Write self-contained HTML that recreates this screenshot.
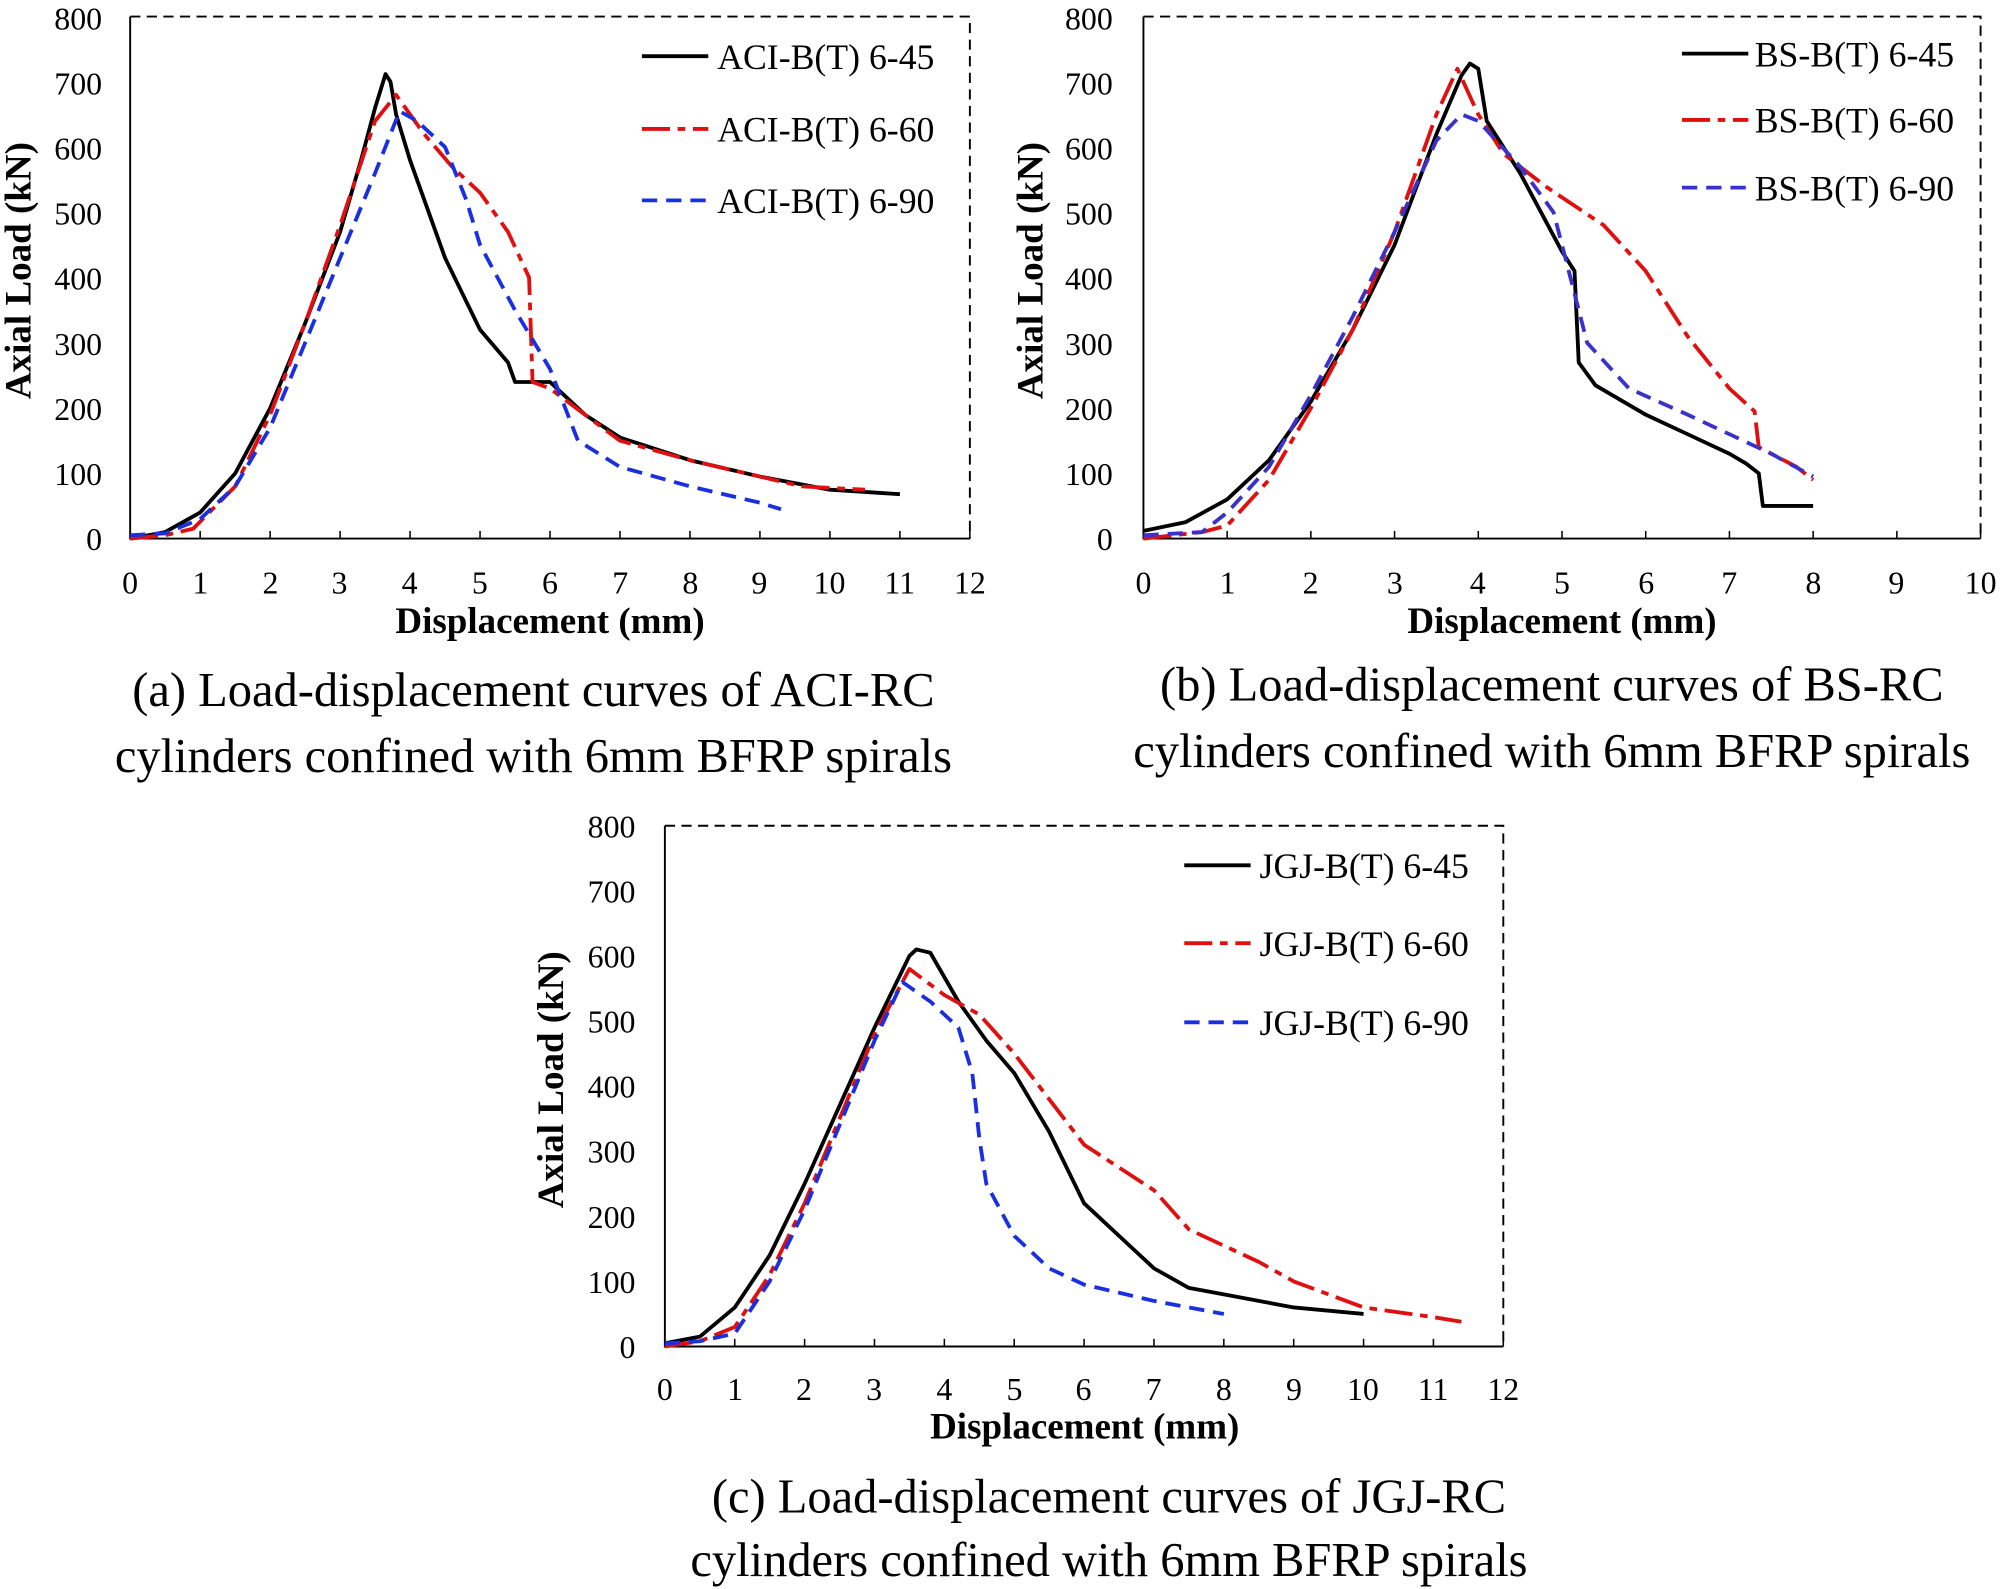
<!DOCTYPE html>
<html><head><meta charset="utf-8"><style>
html,body{margin:0;padding:0;background:#fff}
svg{display:block}
text{font-family:"Liberation Serif",serif;fill:#000}
.t{font-size:25px}
.ti{font-size:29px;font-weight:bold}
.lg{font-size:28px}
.cap{font-size:38px}
</style></head><body>
<svg id="s" width="2001" height="1589" viewBox="0 0 1568 1245" preserveAspectRatio="none" xmlns="http://www.w3.org/2000/svg">
<g id="g"></g>
<g class="t" text-anchor="end">
<text x="80" y="431">0</text><text x="80" y="380">100</text><text x="80" y="329">200</text><text x="80" y="278">300</text><text x="80" y="227">400</text><text x="80" y="176">500</text><text x="80" y="125">600</text><text x="80" y="74">700</text><text x="80" y="23">800</text>
<text x="872" y="431">0</text><text x="872" y="380">100</text><text x="872" y="329">200</text><text x="872" y="278">300</text><text x="872" y="227">400</text><text x="872" y="176">500</text><text x="872" y="125">600</text><text x="872" y="74">700</text><text x="872" y="23">800</text>
<text x="498" y="1064">0</text><text x="498" y="1013">100</text><text x="498" y="962">200</text><text x="498" y="911">300</text><text x="498" y="860">400</text><text x="498" y="809">500</text><text x="498" y="758">600</text><text x="498" y="707">700</text><text x="498" y="656">800</text>
</g>
<g class="t" text-anchor="middle">
<text x="102" y="465">0</text><text x="157" y="465">1</text><text x="212" y="465">2</text><text x="266" y="465">3</text><text x="321" y="465">4</text><text x="376" y="465">5</text><text x="431" y="465">6</text><text x="486" y="465">7</text><text x="541" y="465">8</text><text x="595" y="465">9</text><text x="650" y="465">10</text><text x="705" y="465">11</text><text x="760" y="465">12</text>
<text x="896" y="465">0</text><text x="962" y="465">1</text><text x="1027" y="465">2</text><text x="1093" y="465">3</text><text x="1158" y="465">4</text><text x="1224" y="465">5</text><text x="1290" y="465">6</text><text x="1355" y="465">7</text><text x="1421" y="465">8</text><text x="1486" y="465">9</text><text x="1552" y="465">10</text>
<text x="521" y="1097">0</text><text x="576" y="1097">1</text><text x="630" y="1097">2</text><text x="685" y="1097">3</text><text x="740" y="1097">4</text><text x="795" y="1097">5</text><text x="849" y="1097">6</text><text x="904" y="1097">7</text><text x="959" y="1097">8</text><text x="1014" y="1097">9</text><text x="1068" y="1097">10</text><text x="1123" y="1097">11</text><text x="1178" y="1097">12</text>
</g>
<g class="ti" text-anchor="middle">
<text x="431" y="496">Displacement  (mm)</text>
<text x="1224" y="496">Displacement  (mm)</text>
<text x="850" y="1127">Displacement  (mm)</text>
<text transform="translate(24,212) rotate(-90)">Axial Load (kN)</text>
<text transform="translate(817,212) rotate(-90)">Axial Load (kN)</text>
<text transform="translate(441,846) rotate(-90)">Axial Load (kN)</text>
</g>
<g class="lg">
<text x="562" y="54">ACI-B(T) 6-45</text><text x="562" y="111">ACI-B(T) 6-60</text><text x="562" y="167">ACI-B(T) 6-90</text>
<text x="1375" y="52">BS-B(T) 6-45</text><text x="1375" y="104">BS-B(T) 6-60</text><text x="1375" y="157">BS-B(T) 6-90</text>
<text x="987" y="688">JGJ-B(T) 6-45</text><text x="987" y="749">JGJ-B(T) 6-60</text><text x="987" y="811">JGJ-B(T) 6-90</text>
</g>
<g class="cap" text-anchor="middle">
<text x="418" y="553">(a) Load-displacement curves of ACI-RC</text>
<text x="418" y="605">cylinders confined with 6mm BFRP spirals</text>
<text x="1216" y="549">(b) Load-displacement curves of BS-RC</text>
<text x="1216" y="601">cylinders confined with 6mm BFRP spirals</text>
<text x="869" y="1185">(c) Load-displacement curves of JGJ-RC</text>
<text x="869" y="1235">cylinders confined with 6mm BFRP spirals</text>
</g>
</svg>
<script>
var g=document.getElementById('g'),NS='http://www.w3.org/2000/svg';
function el(n,a){var e=document.createElementNS(NS,n);for(var k in a)e.setAttribute(k,a[k]);g.appendChild(e);return e;}
function panel(x0,x1,xmax,y0,y1,series,leg){
 el('path',{d:'M'+x0+','+y1+'H'+x1+'V'+y0,fill:'none',stroke:'#000','stroke-width':1.5,'stroke-dasharray':'8,5'});
 el('path',{d:'M'+x0+','+y1+'V'+y0+'H'+x1,fill:'none',stroke:'#000','stroke-width':1.5});
 for(var i=0;i<=xmax;i++){var x=x0+(x1-x0)*i/xmax;el('line',{x1:x,x2:x,y1:y0,y2:y0-6,stroke:'#000','stroke-width':1.2});}
 var sx=(x1-x0)/xmax,sy=(y0-y1)/800;
 series.forEach(function(s,k){
  var d=s.p.map(function(p,i){return (i?'L':'M')+(x0+p[0]*sx).toFixed(1)+','+(y0-p[1]*sy).toFixed(1)}).join('');
  var a={d:d,fill:'none',stroke:s.c,'stroke-width':3,'stroke-linejoin':'round'};if(s.da)a['stroke-dasharray']=s.da;
  el('path',a);
  var L=leg[k];var b={x1:L[0],x2:L[0]+52,y1:L[1],y2:L[1],stroke:s.c,'stroke-width':3};if(s.da)b['stroke-dasharray']=s.da;el('line',b);
 });
}
var K='#000',R='#e01010',B='#1a2fe0',P='#3a32c8';
panel(102,760,12,422,13,[
{c:K,p:[[0,0],[0.5,10],[1,40],[1.5,100],[2,200],[2.5,330],[3,470],[3.3,580],[3.5,660],[3.65,712],[3.72,700],[3.8,650],[4,580],[4.5,430],[5,320],[5.4,270],[5.5,240],[6,240],[6.5,190],[7,155],[8,120],[9,95],[10,75],[11,68]]},
{c:R,da:'22,6,6,6',p:[[0,0],[0.5,5],[0.9,15],[1.5,80],[2,190],[2.5,330],[3,480],[3.5,640],[3.8,680],[4.2,620],[4.6,570],[5,530],[5.4,470],[5.7,400],[5.75,240],[6,230],[6.5,190],[7,150],[8,120],[9,95],[9.6,80],[10.5,75]]},
{c:B,da:'12,7',p:[[0,5],[0.5,8],[1,30],[1.5,80],[2,170],[2.5,300],[3,430],[3.5,560],[3.85,655],[4.1,640],[4.5,600],[4.8,520],[5,450],[5.5,350],[6,260],[6.4,150],[7,110],[8,80],[9,55],[9.3,45]]}
],[[503,44],[503,101],[503,157]]);
panel(896,1552,10,422,13,[
{c:K,p:[[0,12],[0.5,25],[1,60],[1.5,120],[2,210],[2.5,320],[3,450],[3.5,620],[3.8,710],[3.9,728],[4,720],[4.1,640],[4.5,560],[5,440],[5.15,410],[5.2,270],[5.4,235],[6,190],[6.5,160],[7,130],[7.2,115],[7.35,100],[7.4,50],[8,50]]},
{c:R,da:'22,6,6,6',p:[[0,0],[0.7,10],[1,20],[1.5,90],[2,200],[2.5,320],[3,470],[3.5,650],[3.75,720],[4,650],[4.3,590],[4.8,540],[5.5,480],[6,410],[6.5,310],[7,230],[7.3,195],[7.35,140],[7.8,110],[8,90]]},
{c:P,da:'12,7',p:[[0,5],[0.7,10],[1,40],[1.5,110],[2,220],[2.5,340],[3,470],[3.5,610],[3.8,650],[4,640],[4.5,570],[4.9,500],[5.1,400],[5.3,300],[5.8,230],[6.5,190],[7,160],[7.5,130],[8,95]]}
],[[1318,42],[1318,94],[1318,147]]);
panel(521,1178,12,1055,647,[
{c:K,p:[[0,5],[0.5,15],[1,60],[1.5,140],[2,250],[2.5,370],[3,490],[3.5,600],[3.6,610],[3.8,605],[4.2,530],[4.6,470],[5,420],[5.5,330],[6,220],[6.5,170],[7,120],[7.5,90],[8,80],[9,60],[10,50]]},
{c:R,da:'22,6,6,6',p:[[0,0],[0.5,8],[1,30],[1.5,110],[2,220],[2.5,350],[3,480],[3.5,580],[4,540],[4.5,510],[5,450],[5.5,380],[6,310],[6.5,275],[7,240],[7.5,180],[8,155],[8.5,130],[9,100],[10,60],[11,45],[11.4,38]]},
{c:B,da:'12,7',p:[[0,5],[0.5,8],[1,20],[1.5,100],[2,210],[2.5,340],[3,470],[3.4,560],[3.8,530],[4.2,490],[4.4,420],[4.5,320],[4.6,250],[5,170],[5.5,120],[6,95],[7,70],[8,50]]}
],[[928,678],[928,739],[928,801]]);
</script>
</body></html>
